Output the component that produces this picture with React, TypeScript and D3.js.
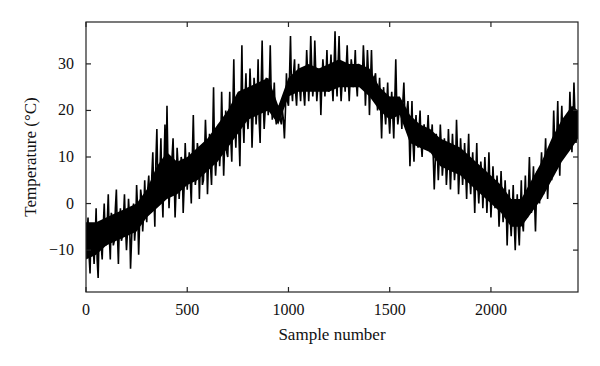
import React, { useEffect, useRef } from 'react';
import * as d3 from 'd3';

// sample index step between the read-off values
const sampleStep = 10;

// temperature (°C) at samples 0, 10, 20, ... (spiky readings)
const temps0 = [-10, -3, -15, -6, -13, -1, -16, -4, -12, 0,
  -9, 2, -12, -3, -8, 3, -13, -1, -7, 2,
  -10, 1, -14, -2, -8, 4, -11, 3, -6, 5,
  -4, 6, -2, 11, -5, 16, 0, 14, -3, 17,
  21, -1, 9, 14, -3, 12, 1, 10, -2, 13,
  3, 11, 0, 19, 4, 13, 1, 12, 5, 18,
  2, 15, 4, 25, 6, 14, 8, 24, 6, 20,
  10, 24, 9, 31, 12, 23, 8, 34, 13, 28,
  16, 29, 12, 27, 17, 31, 13, 35, 16, 27];

const temps1 = [19, 34, 18, 26, 17, 21, 18, 20, 14, 28,
  21, 36, 22, 31, 21, 30, 22, 28, 21, 33,
  22, 36, 23, 35, 22, 29, 19, 31, 23, 33,
  24, 32, 22, 37, 23, 36, 22, 30, 24, 34,
  22, 31, 25, 33, 23, 29, 26, 34, 21, 33,
  19, 33, 23, 28, 20, 27, 14, 25, 17, 26,
  15, 24, 14, 31, 17, 22, 16, 26, 18, 22,
  8, 22, 9, 19, 12, 20, 10, 17, 12, 19];

const temps2 = [11, 17, 3, 15, 5, 17, 6, 14, 4, 16,
  3, 15, 5, 18, 2, 14, 4, 13, 1, 15,
  2, 11, -2, 13, 0, 9, -1, 10, -2, 11,
  -3, 8, -1, 6, -5, 7, -4, 5, -9, 3,
  -7, 4, -10, 2, -9, 5, -6, 6, -3, 10,
  -2, 8, -6, 7, 0, 11, 2, 14, 1, 12,
  5, 20, 7, 22, 6, 21, 10, 18, 12, 24,
  11, 26, 13, 18];

// temperature (°C) at samples 5, 15, 25, ... (readings inside the band)
const mids0 = [-7, -11, -5, -9, -8, -12, -6, -9, -5, -7,
  -4, -7, -2, -9, -1, -6, -4, -8, -3, -5,
  -6, -3, -8, 0, -5, -1, -4, 1, -2, -1,
  3, 0, 6, 2, 9, 4, 7, 3, 8, 5,
  8, 4, 10, 6, 3, 8, 5, 9, 4, 7,
  7, 5, 10, 8, 6, 11, 9, 4, 10, 12,
  9, 8, 13, 11, 10, 17, 12, 15, 13, 11,
  16, 14, 20, 17, 19, 15, 21, 18, 22, 19];

const mids1 = [20, 23, 19, 24, 21, 18, 25, 22, 20, 24,
  25, 23, 22, 19, 18, 19, 17, 18, 20, 22,
  27, 25, 28, 24, 26, 25, 27, 24, 26, 28,
  27, 29, 26, 28, 25, 27, 26, 28, 27, 26,
  28, 26, 29, 27, 30, 27, 26, 28, 29, 27,
  27, 29, 28, 26, 30, 28, 27, 29, 26, 28,
  26, 25, 27, 24, 23, 21, 22, 20, 21, 19,
  20, 19, 22, 21, 19, 20, 22, 19, 20, 17];

const mids2 = [15, 13, 16, 14, 16, 13, 15, 14, 15, 13,
  14, 10, 9, 11, 10, 12, 9, 11, 8, 10,
  9, 10, 8, 11, 7, 9, 8, 7, 9, 6,
  7, 5, 6, 4, 5, 6, 4, 5, 3, 4,
  2, 3, 1, 2, 0, 1, -1, 0, -2, -3,
  -2, -4, -3, -5, -2, -4, 0, -1, 3, 2,
  3, 1, 2, 4, 6, 5, 8, 7, 6, 9,
  11, 13, 14, 12, 15, 14, 16, 17, 15, 18,
  17, 19, 16];

// solid core of the band, every 50 samples (0 ... 2400, then 2430)
const bandSamples = [0, 50, 100, 150, 200, 250, 300, 350, 400, 450,
  500, 550, 600, 650, 700, 750, 800, 850, 900, 950,
  1000, 1050, 1100, 1150, 1200, 1250, 1300, 1350, 1400, 1450,
  1500, 1550, 1600, 1650, 1700, 1750, 1800, 1850, 1900, 1950,
  2000, 2050, 2100, 2150, 2200, 2250, 2300, 2350, 2400, 2430];
const bandLow = [-12, -11, -9, -8, -7, -6, -3, -1, 1, 2,
  4, 5, 7, 9, 12, 15, 18, 19, 20, 17,
  23, 24, 24, 24, 24, 25, 25, 25, 23, 20,
  18, 19, 13, 12, 11, 8, 7, 6, 4, 2,
  0, -2, -5, -5, -2, 1, 5, 9, 12, 14];
const bandHigh = [-4, -4, -3, -2, -1, 0, 3, 8, 11, 9,
  10, 12, 14, 17, 20, 24, 25, 26, 27, 21,
  27, 29, 30, 29, 30, 31, 30, 30, 29, 25,
  23, 23, 19, 17, 16, 14, 13, 12, 10, 8,
  6, 4, 1, 1, 5, 9, 14, 18, 21, 20];

const temps = [...temps0, ...temps1, ...temps2];
const mids = [...mids0, ...mids1, ...mids2];

const xTicks = [0, 500, 1000, 1500, 2000];
const yTicks = [-10, 0, 10, 20, 30];

const TempChart = () => {
  const svgRef = useRef(null);

  useEffect(() => {
    const W = 600;
    const H = 366;
    const margin = { top: 22, right: 22, bottom: 74, left: 86 };
    const width = W - margin.left - margin.right;
    const height = H - margin.top - margin.bottom;
    const font = "'Liberation Serif', 'Times New Roman', serif";

    const svg = d3.select(svgRef.current);
    svg.selectAll('*').remove();
    svg.attr('width', W).attr('height', H);

    svg.append('rect').attr('width', W).attr('height', H).attr('fill', '#fff');

    const g = svg.append('g')
      .attr('transform', `translate(${margin.left}, ${margin.top})`);

    // merge both readings into one series ordered by sample number
    const data = [];
    temps.forEach((t, i) => {
      data.push({ n: i * sampleStep, t });
      if (i < mids.length) data.push({ n: i * sampleStep + sampleStep / 2, t: mids[i] });
    });
    const band = bandSamples.map((n, i) => ({ n, lo: bandLow[i], hi: bandHigh[i] }));

    const x = d3.scaleLinear().domain([0, 2430]).range([0, width]);
    const y = d3.scaleLinear().domain([-19, 39]).range([height, 0]);

    g.append('defs').append('clipPath').attr('id', 'plot-clip')
      .append('rect').attr('width', width).attr('height', height);

    const area = d3.area()
      .x(d => x(d.n))
      .y0(d => y(d.lo))
      .y1(d => y(d.hi));

    g.append('path')
      .datum(band)
      .attr('clip-path', 'url(#plot-clip)')
      .attr('fill', '#000')
      .attr('d', area);

    const line = d3.line()
      .x(d => x(d.n))
      .y(d => y(d.t));

    g.append('path')
      .datum(data)
      .attr('clip-path', 'url(#plot-clip)')
      .attr('fill', 'none')
      .attr('stroke', '#000')
      .attr('stroke-width', 1.6)
      .attr('d', line);

    // inward ticks, mirrored on top and right
    const tickLen = 5;
    const ticks = g.append('g').attr('stroke', '#222').attr('stroke-width', 1.2);
    xTicks.forEach(v => {
      ticks.append('line').attr('x1', x(v)).attr('x2', x(v)).attr('y1', height).attr('y2', height - tickLen);
      ticks.append('line').attr('x1', x(v)).attr('x2', x(v)).attr('y1', 0).attr('y2', tickLen);
    });
    yTicks.forEach(v => {
      ticks.append('line').attr('x1', 0).attr('x2', tickLen).attr('y1', y(v)).attr('y2', y(v));
      ticks.append('line').attr('x1', width).attr('x2', width - tickLen).attr('y1', y(v)).attr('y2', y(v));
    });

    g.append('rect')
      .attr('width', width)
      .attr('height', height)
      .attr('fill', 'none')
      .attr('stroke', '#222')
      .attr('stroke-width', 1.2);

    g.selectAll('.xlab')
      .data(xTicks)
      .enter()
      .append('text')
      .attr('x', d => x(d))
      .attr('y', height + 23)
      .attr('text-anchor', 'middle')
      .attr('font-family', font)
      .attr('font-size', 16)
      .attr('fill', '#111')
      .text(d => d);

    g.selectAll('.ylab')
      .data(yTicks)
      .enter()
      .append('text')
      .attr('x', -12)
      .attr('y', d => y(d) + 5)
      .attr('text-anchor', 'end')
      .attr('font-family', font)
      .attr('font-size', 16)
      .attr('fill', '#111')
      .text(d => (d < 0 ? '\u2212' + Math.abs(d) : d));

    g.append('text')
      .attr('x', width / 2)
      .attr('y', height + 48)
      .attr('text-anchor', 'middle')
      .attr('font-family', font)
      .attr('font-size', 17)
      .attr('fill', '#111')
      .text('Sample number');

    g.append('text')
      .attr('transform', `translate(${-50}, ${height / 2}) rotate(-90)`)
      .attr('text-anchor', 'middle')
      .attr('font-family', font)
      .attr('font-size', 17)
      .attr('fill', '#111')
      .text('Temperature (°C)');
  }, []);

  return (
    <svg ref={svgRef} style={{ position: 'absolute', left: 0, top: 0, display: 'block' }}></svg>
  );
};

export default function App() {
  return <TempChart />;
}
